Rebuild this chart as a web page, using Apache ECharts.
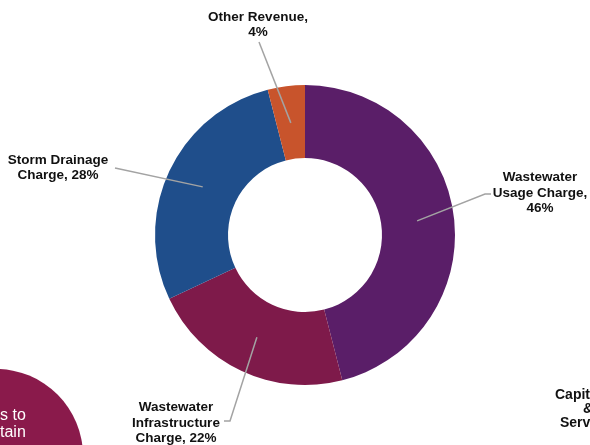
<!DOCTYPE html>
<html>
<head>
<meta charset="utf-8">
<style>
  html, body { margin: 0; padding: 0; background: #ffffff; }
  #chart { width: 590px; height: 445px; }
</style>
<script src="https://cdn.jsdelivr.net/npm/echarts@6/dist/echarts.min.js"></script>
</head>
<body>
<div id="chart"></div>
<script>
// Revenue sources, clockwise from 12 o'clock
const categories = ['Wastewater Usage Charge', 'Wastewater Infrastructure Charge', 'Storm Drainage Charge', 'Other Revenue'];
const shares = [46, 22, 28, 4];
// label text (value and % appended)
const labelTexts = ['Wastewater\nUsage Charge,\n', 'Wastewater\nInfrastructure\nCharge, ', 'Storm Drainage\nCharge, ', 'Other Revenue,\n'];
const sliceColors = ['#5a1e68', '#7e1a4a', '#1f4e8b', '#c8542c'];

// label block centres and the leader-line bends that lead to them
const labelAnchors = [[540, 193], [176, 423], [58, 168], [258, 25]];
const leaderBends = [
  [[485, 194], [491, 194]],
  [[230, 421], [224, 421]],
  [[115, 168]],
  [[259, 42]]
];

const chart = echarts.init(document.getElementById('chart'), null, { renderer: 'canvas' });

const seriesData = categories.map((c, i) => ({ name: c, value: shares[i] }));
const center = [305, 235];

const option = {
  animation: false,
  backgroundColor: '#ffffff',
  graphic: [
    {
      type: 'circle', z: 0,
      shape: { cx: -4, cy: 456, r: 87 },
      style: { fill: '#8a1a4b' }
    },
    {
      type: 'text', z: 1,
      style: {
        x: 0, y: 407, text: 's to\ntain', fill: '#ffffff',
        font: '16px "Liberation Sans", Arial, sans-serif', lineHeight: 17,
        verticalAlign: 'top'
      }
    },
    {
      type: 'text', z: 1,
      style: {
        x: 555, y: 388, text: 'Capital', fill: '#111111',
        font: 'bold 14px "Liberation Sans", Arial, sans-serif'
      }
    },
    {
      type: 'text', z: 1,
      style: {
        x: 583, y: 402, text: '&', fill: '#111111',
        font: 'bold 14px "Liberation Sans", Arial, sans-serif'
      }
    },
    {
      type: 'text', z: 1,
      style: {
        x: 560, y: 416, text: 'Services', fill: '#111111',
        font: 'bold 14px "Liberation Sans", Arial, sans-serif'
      }
    }
  ],
  series: [
    {
      type: 'pie',
      z: 2,
      center: center,
      radius: [77, 150],
      startAngle: 90,
      clockwise: true,
      silent: true,
      label: { show: false },
      labelLine: { show: false },
      itemStyle: { borderWidth: 0 },
      data: seriesData.map((d, i) => ({ ...d, itemStyle: { color: sliceColors[i] } }))
    },
    {
      // transparent ring-middle pie: carries labels with leader lines starting mid-ring
      type: 'pie',
      z: 5,
      center: center,
      radius: [0, 113],
      startAngle: 90,
      clockwise: true,
      silent: true,
      avoidLabelOverlap: false,
      itemStyle: { color: 'rgba(0,0,0,0)', borderWidth: 0 },
      emphasis: { disabled: true },
      label: {
        show: true,
        position: 'outside',
        formatter: p => labelTexts[p.dataIndex] + p.value + '%',
        color: '#111111',
        fontFamily: '"Liberation Sans", Arial, sans-serif',
        fontWeight: 'bold',
        fontSize: 13.5,
        lineHeight: 15.5,
        align: 'center'
      },
      labelLine: {
        show: true,
        length: 10,
        length2: 10,
        lineStyle: { color: '#a3a3a3', width: 1.5 }
      },
      labelLayout: function (params) {
        const i = params.dataIndex;
        const start = params.labelLinePoints && params.labelLinePoints[0];
        const out = {
          x: labelAnchors[i][0],
          y: labelAnchors[i][1],
          align: 'center',
          verticalAlign: 'middle'
        };
        if (start) {
          out.labelLinePoints = [start].concat(leaderBends[i]);
        }
        return out;
      },
      data: seriesData
    }
  ]
};

chart.setOption(option);
</script>
</body>
</html>
